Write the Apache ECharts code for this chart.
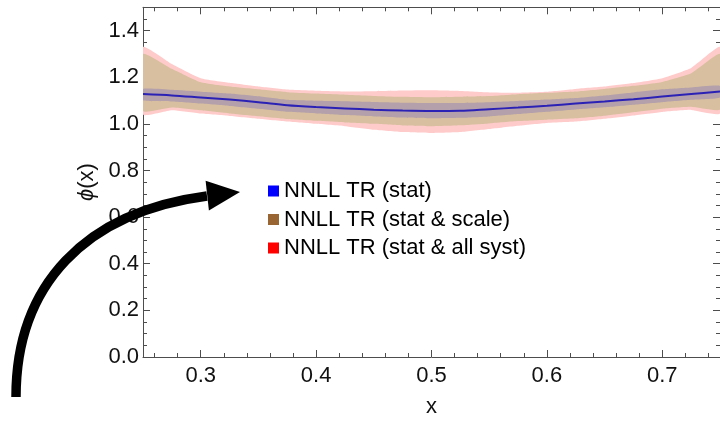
<!DOCTYPE html>
<html>
<head>
<meta charset="utf-8">
<script src="https://cdn.jsdelivr.net/npm/echarts@6/dist/echarts.min.js"></script>
<style>
  html, body { margin: 0; padding: 0; background: #ffffff; }
  #chart { width: 720px; height: 423px; }
</style>
</head>
<body>
<div id="chart"></div>
<script>
// Sample points in x
const xs = [0.25, 0.275, 0.3, 0.325, 0.35, 0.375, 0.4, 0.425, 0.45, 0.475, 0.5,
            0.525, 0.55, 0.575, 0.6, 0.625, 0.65, 0.675, 0.7, 0.725, 0.75];

// Central value of phi(x)
const phiCentral = [1.128, 1.122, 1.113, 1.104, 1.093, 1.080, 1.072, 1.066, 1.061, 1.057, 1.055,
                    1.056, 1.063, 1.070, 1.078, 1.087, 1.096, 1.106, 1.117, 1.128, 1.139];

// NNLL TR (stat) band
const statLo = [1.101, 1.096, 1.087, 1.077, 1.065, 1.052, 1.045, 1.038, 1.032, 1.027, 1.024,
                1.026, 1.032, 1.042, 1.052, 1.062, 1.071, 1.082, 1.093, 1.103, 1.113];
const statHi = [1.150, 1.146, 1.138, 1.130, 1.118, 1.103, 1.099, 1.097, 1.094, 1.091, 1.090,
                1.090, 1.093, 1.098, 1.104, 1.111, 1.122, 1.135, 1.148, 1.156, 1.163];

// NNLL TR (stat & scale) band
const scaleLo = [1.055, 1.070, 1.058, 1.045, 1.033, 1.021, 1.013, 1.006, 1.000, 0.993, 0.990,
                 0.994, 1.002, 1.012, 1.018, 1.024, 1.035, 1.050, 1.065, 1.073, 1.062];
const scaleHi = [1.300, 1.236, 1.178, 1.160, 1.148, 1.136, 1.130, 1.125, 1.120, 1.116, 1.114,
                 1.116, 1.119, 1.127, 1.133, 1.139, 1.150, 1.163, 1.180, 1.217, 1.300];

// NNLL TR (stat & all syst) band
const systLo = [1.040, 1.058, 1.044, 1.034, 1.022, 1.010, 1.000, 0.990, 0.975, 0.965, 0.961,
                0.965, 0.978, 0.992, 1.004, 1.010, 1.022, 1.036, 1.051, 1.060, 1.045];
const systHi = [1.330, 1.257, 1.196, 1.176, 1.160, 1.147, 1.142, 1.139, 1.140, 1.143, 1.144,
                1.141, 1.135, 1.134, 1.138, 1.150, 1.160, 1.175, 1.196, 1.240, 1.330];

// Legend entries
const legendNames = ['NNLL TR (stat)', 'NNLL TR (stat & scale)', 'NNLL TR (stat & all syst)'];

// Tick values
const xMajor = [0.3, 0.4, 0.5, 0.6, 0.7];
const yMajor = [0.0, 0.2, 0.4, 0.6, 0.8, 1.0, 1.2, 1.4];

const X_MIN = 0.25, X_MAX = 0.75, Y_MIN = 0, Y_MAX = 1.5;

const xMinor = [];
for (let k = 13; k <= 37; k++) { if (k % 5 !== 0) xMinor.push(+(k * 0.02).toFixed(2)); }
const yMinor = [];
for (let k = 1; k <= 30; k++) { if (k % 4 !== 0) yMinor.push(+(k * 0.05).toFixed(2)); }

const FRAME = '#4d4d4d';
const FONT = 'Liberation Sans, Arial, sans-serif';
const FS = 22;

function frameAxis(kind, position, ticks, len, showLine, extra) {
  const base = {
    type: 'value',
    position: position,
    min: kind === 'x' ? X_MIN : Y_MIN,
    max: kind === 'x' ? X_MAX : Y_MAX,
    splitLine: { show: false },
    axisLine: { show: showLine, onZero: false, lineStyle: { color: FRAME, width: 1 } },
    axisTick: { show: true, inside: true, length: len, customValues: ticks,
                lineStyle: { color: FRAME, width: 1 } },
    axisLabel: { show: false },
    minorTick: { show: false }
  };
  return Object.assign(base, extra || {});
}

const chart = echarts.init(document.getElementById('chart'), null, { renderer: 'canvas' });

// Filled band between a lower and an upper curve
function band(name, lo, hi, fill, legendColor, z) {
  return {
    type: 'custom',
    name: name,
    xAxisIndex: 0,
    yAxisIndex: 0,
    silent: true,
    clip: true,
    z: z,
    itemStyle: { color: legendColor },
    data: [0],
    renderItem: function (params, api) {
      const pts = [];
      for (let i = 0; i < xs.length; i++) pts.push(api.coord([xs[i], hi[i]]));
      for (let i = xs.length - 1; i >= 0; i--) pts.push(api.coord([xs[i], lo[i]]));
      return { type: 'polygon', shape: { points: pts, smooth: 0.15 },
               style: { fill: fill, stroke: null } };
    }
  };
}

const option = {
  animation: false,
  backgroundColor: '#ffffff',
  grid: { left: 143, top: 7.3, width: 578, height: 357, containLabel: false },
  xAxis: [
    frameAxis('x', 'bottom', xMajor, 7, true, {
      name: 'x', nameLocation: 'middle', nameGap: 39,
      nameTextStyle: { fontFamily: FONT, fontSize: FS, color: '#111' },
      axisLabel: { show: true, customValues: xMajor, margin: 8, fontFamily: FONT, fontSize: FS,
                   color: '#111', formatter: v => v.toFixed(1) }
    }),
    frameAxis('x', 'bottom', xMinor, 4, false),
    frameAxis('x', 'top', xMajor, 7, true),
    frameAxis('x', 'top', xMinor, 4, false)
  ],
  yAxis: [
    frameAxis('y', 'left', yMajor, 7, true, {
      name: '{i|ϕ}(x)', nameLocation: 'middle', nameGap: 42, nameRotate: 90,
      nameTextStyle: { fontFamily: FONT, fontSize: FS, color: '#111',
                       rich: { i: { fontStyle: 'italic', fontFamily: FONT, fontSize: FS, color: '#111' } } },
      axisLabel: { show: true, customValues: yMajor, margin: 4, fontFamily: FONT, fontSize: FS,
                   color: '#111', formatter: v => v.toFixed(1) }
    }),
    frameAxis('y', 'left', yMinor, 4, false),
    frameAxis('y', 'right', yMajor, 7, true),
    frameAxis('y', 'right', yMinor, 4, false)
  ],
  legend: {
    orient: 'vertical',
    left: 268,
    top: 180,
    padding: 0,
    itemWidth: 11,
    itemHeight: 11,
    itemGap: 6.5,
    icon: 'rect',
    selectedMode: false,
    textStyle: { fontFamily: FONT, fontSize: FS, color: '#000', lineHeight: 22 },
    data: legendNames
  },
  series: [
    band(legendNames[2], systLo, systHi, '#ffcaca', '#ff0000', 1),
    band(legendNames[1], scaleLo, scaleHi, '#d8bf9f', '#996633', 2),
    band(legendNames[0], statLo, statHi, '#b3a0aa', '#0000ff', 3),
    {
      type: 'line',
      name: 'central',
      xAxisIndex: 0,
      yAxisIndex: 0,
      z: 4,
      showSymbol: false,
      smooth: 0.3,
      silent: true,
      lineStyle: { color: '#2b22b5', width: 2 },
      data: xs.map((x, i) => [x, phiCentral[i]])
    }
  ],
  graphic: [
    {
      type: 'bezierCurve',
      z: 100,
      shape: { x1: 16, y1: 397, cpx1: 16, cpy1: 285, cpx2: 85, cpy2: 212, x2: 207, y2: 196 },
      style: { stroke: '#000', lineWidth: 9.5, fill: null }
    },
    {
      type: 'polygon',
      z: 100,
      shape: { points: [[205.6, 180.7], [240, 192], [208.9, 210.5]] },
      style: { fill: '#000' }
    }
  ]
};

chart.setOption(option);
</script>
</body>
</html>
